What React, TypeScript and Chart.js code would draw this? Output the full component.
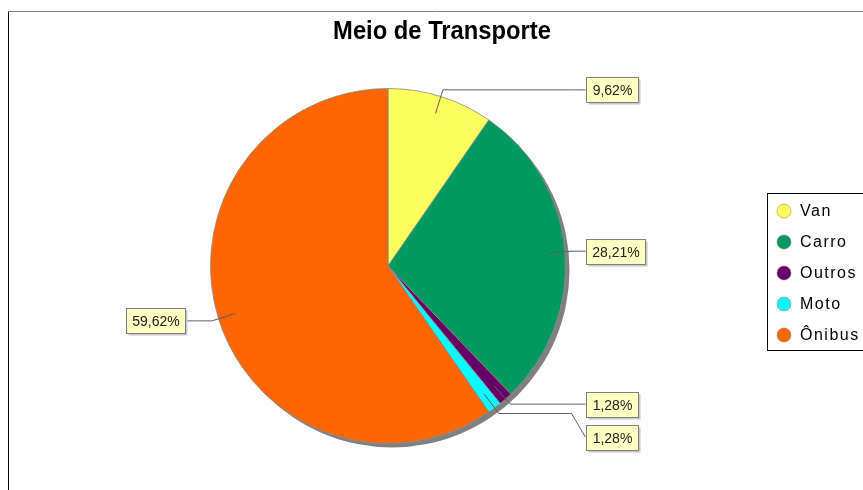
import React, { useEffect, useRef } from 'react';
import { Chart, registerables } from 'chart.js';

Chart.register(...registerables);

const chartTitle = 'Meio de Transporte';
const categories = ['Van', 'Carro', 'Outros', 'Moto', 'Ônibus'];
const values = [9.62, 28.21, 1.28, 1.28, 59.62];
const colors = ['#FFFF5E', '#00995E', '#660066', '#00FFFF', '#FF6600'];

const W = 863;
const H = 490;

const fmt = (v: number) => v.toFixed(2).replace('.', ',') + '%';

export default function App() {
  const ref = useRef<HTMLCanvasElement>(null);

  useEffect(() => {
    const canvas = ref.current!;

    const framePlugin = {
      id: 'frame',
      beforeDraw(chart: any) {
        const ctx = chart.ctx as CanvasRenderingContext2D;
        ctx.save();
        ctx.fillStyle = '#ffffff';
        ctx.fillRect(0, 0, W, H);
        ctx.lineWidth = 1;
        ctx.strokeStyle = '#808080';
        ctx.beginPath();
        ctx.moveTo(8, 11.5);
        ctx.lineTo(W, 11.5);
        ctx.stroke();
        ctx.strokeStyle = '#000000';
        ctx.beginPath();
        ctx.moveTo(8.5, 12);
        ctx.lineTo(8.5, H);
        ctx.stroke();
        ctx.fillStyle = '#000000';
        ctx.font = 'bold 25px "Liberation Sans", Arial, sans-serif';
        ctx.textAlign = 'center';
        ctx.textBaseline = 'middle';
        ctx.translate(442, 32);
        ctx.scale(0.95, 1.0);
        ctx.fillText(chartTitle, 0, 0);
        ctx.restore();
      },
    };

    const shadowPlugin = {
      id: 'pieShadow',
      beforeDatasetsDraw(chart: any) {
        const arc = chart.getDatasetMeta(0).data[0];
        if (!arc) return;
        const ctx = chart.ctx as CanvasRenderingContext2D;
        ctx.save();
        ctx.fillStyle = '#808080';
        ctx.beginPath();
        ctx.arc(arc.x + 4, arc.y + 4, arc.outerRadius, 0, Math.PI * 2);
        ctx.fill();
        ctx.restore();
      },
    };

    const labelPlugin = {
      id: 'pieLabels',
      afterDatasetsDraw(chart: any) {
        const ctx = chart.ctx as CanvasRenderingContext2D;
        const arcs = chart.getDatasetMeta(0).data as any[];
        if (!arcs.length) return;
        const cx = arcs[0].x;
        const cy = arcs[0].y;
        const R = arcs[0].outerRadius;
        const rightEdge = cx + R + 20;
        const leftEdge = cx - R - 26;
        const boxH = 25;
        const minGap = 33;
        ctx.save();
        ctx.font = '14px "Liberation Sans", Arial, sans-serif';
        const items = arcs.map((a, i) => {
          const mid = (a.startAngle + a.endAngle) / 2;
          const right = Math.cos(mid) >= 0;
          return {
            i,
            mid,
            right,
            linkX: cx + R * 0.9 * Math.cos(mid),
            linkY: cy + R * 0.9 * Math.sin(mid),
            elbowX: cx + (R + 7) * Math.cos(mid),
            elbowY: cy + (R + 7) * Math.sin(mid),
            targetY: 0,
            text: fmt(values[i]),
          };
        });
        [true, false].forEach((side) => {
          const s = items.filter((it) => it.right === side).sort((a, b) => a.elbowY - b.elbowY);
          let prev = -Infinity;
          s.forEach((it) => {
            it.targetY = Math.max(it.elbowY, prev + minGap);
            prev = it.targetY;
          });
        });
        items.forEach((it) => {
          const tw = ctx.measureText(it.text).width;
          const bw = Math.round(tw + 12);
          const bx = it.right ? rightEdge : leftEdge - bw;
          const edgeX = it.right ? bx : bx + bw;
          const anchorX = it.right ? edgeX - 14 : edgeX + 14;
          ctx.strokeStyle = '#606060';
          ctx.lineWidth = 1;
          ctx.beginPath();
          ctx.moveTo(it.linkX, it.linkY);
          ctx.lineTo(it.elbowX, it.elbowY);
          ctx.lineTo(anchorX, it.elbowY);
          ctx.lineTo(edgeX, it.targetY);
          ctx.stroke();
          const by = Math.round(it.targetY - boxH / 2) + 0.5;
          const bxx = Math.round(bx) + 0.5;
          ctx.fillStyle = '#c8c8c8';
          ctx.fillRect(bxx + 2, by + 2, bw, boxH);
          ctx.fillStyle = '#FFFFC4';
          ctx.fillRect(bxx, by, bw, boxH);
          ctx.strokeStyle = '#808080';
          ctx.strokeRect(bxx, by, bw, boxH);
          ctx.fillStyle = '#222222';
          ctx.textAlign = 'center';
          ctx.textBaseline = 'middle';
          ctx.fillText(it.text, bxx + bw / 2, by + boxH / 2 + 1);
        });
        ctx.restore();
      },
    };

    const legendPlugin = {
      id: 'customLegend',
      afterDraw(chart: any) {
        const ctx = chart.ctx as CanvasRenderingContext2D;
        ctx.save();
        const lx = 767.5;
        const ly = 193.5;
        const rowH = 31;
        const lh = 157;
        ctx.fillStyle = '#ffffff';
        ctx.fillRect(lx, ly, W - lx + 20, lh);
        ctx.strokeStyle = '#000000';
        ctx.lineWidth = 1;
        ctx.strokeRect(lx, ly, W - lx + 20, lh);
        ctx.font = '16px "Liberation Sans", Arial, sans-serif';
        (ctx as any).letterSpacing = '1.5px';
        ctx.textAlign = 'left';
        ctx.textBaseline = 'middle';
        categories.forEach((c, i) => {
          const y = 211 + i * rowH;
          ctx.fillStyle = colors[i];
          ctx.beginPath();
          ctx.arc(784, y, 7, 0, Math.PI * 2);
          ctx.fill();
          ctx.strokeStyle = 'rgba(120,120,120,0.5)';
          ctx.stroke();
          ctx.fillStyle = '#000000';
          ctx.fillText(c, 800, y + 1);
        });
        ctx.restore();
      },
    };

    const chart = new Chart(canvas, {
      type: 'pie',
      data: {
        labels: categories,
        datasets: [
          {
            data: values,
            backgroundColor: colors,
            borderColor: 'rgba(140,140,140,0.8)',
            borderWidth: 1,
          },
        ],
      },
      options: {
        responsive: false,
        animation: false,
        layout: { padding: { left: 210, right: 297, top: 88, bottom: 46 } },
        plugins: {
          legend: { display: false },
          title: { display: false },
          tooltip: { enabled: false },
        },
      },
      plugins: [framePlugin, shadowPlugin, labelPlugin, legendPlugin],
    });
    return () => chart.destroy();
  }, []);

  return (
    <div style={{ position: 'fixed', left: 0, top: 0 }}>
      <canvas ref={ref} width={W} height={H} style={{ width: W, height: H, display: 'block' }} />
    </div>
  );
}
